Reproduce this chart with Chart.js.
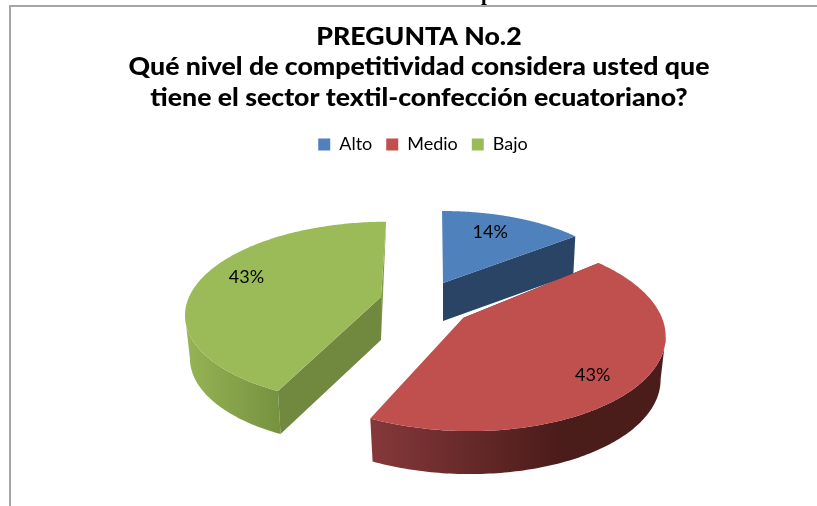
<!DOCTYPE html>
<html><head><meta charset="utf-8">
<style>
html,body{margin:0;padding:0;background:#fff;overflow:hidden;width:817px;height:506px}
#frame{position:absolute;left:9px;top:5px;width:830px;height:530px;border:2px solid #a6a6a6;box-sizing:border-box}
canvas{position:absolute;left:0;top:0}
#cut{position:absolute;left:481px;top:-17px;font:bold 21px/21px 'Liberation Serif';color:#000}
</style>
<script src="https://cdn.jsdelivr.net/npm/chart.js@4"></script>
</head><body>
<div id="frame"></div>
<canvas id="c" width="817" height="506"></canvas>
<div id="cut">p</div>
<script>
const categories = ['Alto', 'Medio', 'Bajo'];
const values = [14, 43, 43];
const titleLines = ['PREGUNTA No.2', 'Qué nivel de competitividad considera usted que', 'tiene el sector textil-confección ecuatoriano?'];
const topColors = ['#4f81bd', '#c0504d', '#9bbb59'];

// how each exploded slice is projected on screen (perspective view of the pie)
const views = [
  {x:443, y:283, rx:178, ry:75.6, shear:1, a:.05, depth:38, shrink:.985, face:'#2a4466', rim:null, labelDx:-5, labelDy:-3},
  {x:463, y:318, rx:199, ry:95, shear:6,  a:.16, depth:43, shrink:.975, face:'#4a1c1a', rim:['#86383a','#4a1c1a',370,560], labelDx:5, labelDy:12},
  {x:381, y:297, rx:192, ry:88, shear:-6, a:.17, depth:43, shrink:.975, face:'#70893e', rim:['#96b355','#76923f',187,280], labelDx:-4, labelDy:-6}
];
const drawOrder = [2, 0, 1];
const titleStretch = 1.11, legendShift = 4;

function project(v, theta, t, deep) {
  const u = Math.sin(theta) * t, w = -Math.cos(theta) * t;
  const p = 1 / (1 - v.a * w);
  const x = (v.rx * u + v.shear * w) * p, y = v.ry * w * p;
  return deep ? [v.x + x * v.shrink, v.y + y + v.depth] : [v.x + x, v.y + y];
}
function rimPts(v, s, e, deep) {
  const pts = [];
  for (let i = 0; i <= 160; i++) {
    const th = s + (e - s) * i / 160;
    pts.push(project(v, th, 1, deep));
  }
  return pts;
}
function fillPoly(ctx, pts, fill) {
  ctx.beginPath();
  pts.forEach((q, i) => i ? ctx.lineTo(q[0], q[1]) : ctx.moveTo(q[0], q[1]));
  ctx.closePath();
  ctx.fillStyle = fill;
  ctx.fill();
}
const pie3d = {
  id: 'pie3d',
  beforeDraw(chart) {
    if (chart.$wrapped) return;
    chart.$wrapped = true;
    const ctx = chart.ctx;
    const t = chart.titleBlock, tDraw = t.draw;
    t.draw = function (area) {
      const c = (t.left + t.right) / 2;
      ctx.save(); ctx.translate(c, 0); ctx.scale(titleStretch, 1); ctx.translate(-c, 0);
      tDraw.call(t, area); ctx.restore();
    };
    const l = chart.legend, lDraw = l.draw;
    l.draw = function (area) {
      ctx.save(); ctx.translate(legendShift, 0);
      lDraw.call(l, area); ctx.restore();
    };
  },
  beforeDatasetDraw(chart) {
    const ctx = chart.ctx, arcs = chart.getDatasetMeta(0).data;
    ctx.save();
    drawOrder.forEach(i => {
      const v = views[i], el = arcs[i];
      const s = el.startAngle + Math.PI / 2, e = el.endAngle + Math.PI / 2;
      const top = rimPts(v, s, e, false), bottom = rimPts(v, s, e, true);
      if (v.rim) {
        const g = ctx.createLinearGradient(v.rim[2], 0, v.rim[3], 0);
        g.addColorStop(0, v.rim[0]); g.addColorStop(1, v.rim[1]);
        // only the part of the rim that faces the viewer: up to the widest point of the slice
        const xs = top.map(q => q[0]);
        const redSide = i === 1;
        const k = xs.indexOf(redSide ? Math.max(...xs) : Math.min(...xs));
        const a = redSide ? top.slice(k) : top.slice(0, k + 1);
        const b = redSide ? bottom.slice(k) : bottom.slice(0, k + 1);
        fillPoly(ctx, a.concat(b.reverse()), g);
      }
      const apex = project(v, 0, 0, false), apexB = project(v, 0, 0, true);
      const last = i === 0;
      fillPoly(ctx, [apex, last ? top[160] : top[0], last ? bottom[160] : bottom[0], apexB], v.face);
      if (i === 2) fillPoly(ctx, [top[160], apex, apexB], '#7f9a48');
      fillPoly(ctx, [apex].concat(top), topColors[i]);
    });
    ctx.restore();
    return false;
  },
  afterDatasetsDraw(chart) {
    const ctx = chart.ctx, arcs = chart.getDatasetMeta(0).data;
    const total = values.reduce((a, b) => a + b, 0);
    ctx.save();
    ctx.font = '18px Lato';
    ctx.fillStyle = '#000';
    ctx.textAlign = 'center';
    ctx.textBaseline = 'middle';
    arcs.forEach((el, i) => {
      const mid = (el.startAngle + el.endAngle) / 2 + Math.PI / 2;
      const q = project(views[i], mid, .72, false);
      ctx.fillText(Math.round(values[i] / total * 100) + '%', q[0] + views[i].labelDx, q[1] + views[i].labelDy);
    });
    ctx.restore();
  }
};
new Chart(document.getElementById('c'), {
  type: 'pie',
  plugins: [pie3d],
  data: { labels: categories, datasets: [{ data: values, backgroundColor: topColors, borderWidth: 0 }] },
  options: {
    responsive: false, animation: false, devicePixelRatio: 1,
    layout: { padding: { left: 21, top: 22, bottom: 30, right: 0 } },
    plugins: {
      tooltip: { enabled: false },
      title: { display: true, text: titleLines, color: '#000', align: 'center',
        font: { family: 'Lato', size: 24, weight: '900', lineHeight: 1.27 }, padding: { top: 0, bottom: 8 } },
      legend: { display: true, position: 'top',
        labels: { color: '#000', boxWidth: 12, boxHeight: 12, padding: 14, font: { family: 'Lato', size: 18 } } }
    }
  }
});
</script>
</body></html>
